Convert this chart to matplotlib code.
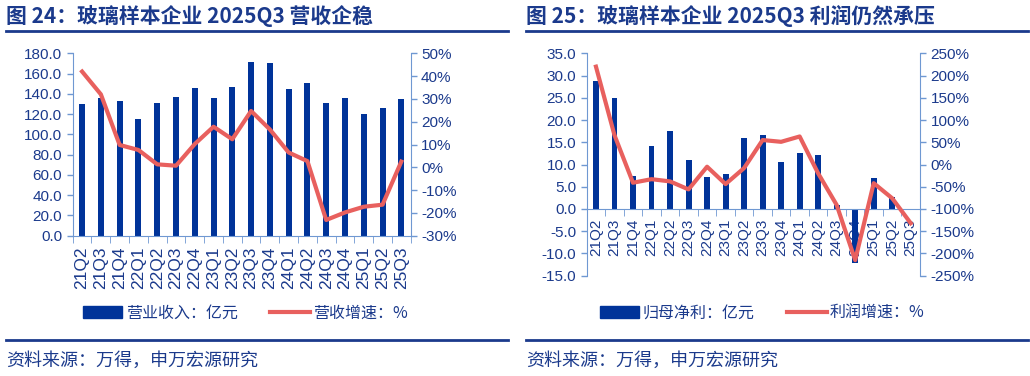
import matplotlib
matplotlib.use("Agg")
import matplotlib.pyplot as plt
from matplotlib.lines import Line2D
from matplotlib.patches import Patch
import numpy as np

plt.rcParams["font.family"] = ["Liberation Sans", "Noto Sans CJK SC", "DejaVu Sans"]

QUARTERS = ["21Q2", "21Q3", "21Q4", "22Q1", "22Q2", "22Q3", "22Q4", "23Q1", "23Q2",
            "23Q3", "23Q4", "24Q1", "24Q2", "24Q3", "24Q4", "25Q1", "25Q2", "25Q3"]
REVENUE = [130, 135.5, 132.6, 115.5, 131, 137, 146, 136, 147,
           171, 170, 145, 151, 131, 136, 120, 126, 134.5]          # 亿元
REV_GROWTH = [42, 32, 9.8, 7.6, 1.3, 0.7, 10.2, 17.8, 12.3,
              24.7, 16.6, 6.5, 2.7, -23.1, -19.8, -17.3, -16.4, 2.5]  # %
PROFIT = [28.8, 25.0, 7.5, 14.2, 17.5, 10.9, 7.1, 7.8, 15.9,
          16.7, 10.6, 12.5, 12.1, 1.0, -12.1, 7.0, 2.6, -0.3]       # 亿元
PROFIT_GROWTH = [220, 66, -41, -33, -38, -56, -5, -44, -8,
                 55, 51, 63, -20, -91, -215, -42, -76, -132]        # %

TITLES = ["图 24：玻璃样本企业 2025Q3 营收企稳", "图 25：玻璃样本企业 2025Q3 利润仍然承压"]
SOURCE = "资料来源：万得，申万宏源研究"

BAR_C = "#003399"
LINE_C = "#e8605e"
TXT_C = "#1b3a8c"
AX_C = "#6f98d2"
CJK = ["Noto Sans CJK SC", "DejaVu Sans"]

fig = plt.figure(figsize=(10.3, 3.76), dpi=100)


def style_axes(ax, ax2, xsize, xpad):
    for a in (ax, ax2):
        for s in a.spines.values():
            s.set_visible(False)
        a.tick_params(colors=AX_C, labelcolor=TXT_C, labelsize=11, width=1, length=4)
    ax.spines["left"].set_visible(True)
    ax.spines["left"].set_color(AX_C)
    ax.spines["bottom"].set_visible(True)
    ax.spines["bottom"].set_color(AX_C)
    ax.spines["bottom"].set_position(("data", 0))
    ax2.spines["right"].set_visible(True)
    ax2.spines["right"].set_color(AX_C)
    x = np.arange(len(QUARTERS))
    ax.set_xticks(x)
    ax.set_xticklabels(QUARTERS)
    ax.set_xticks(np.arange(len(QUARTERS) + 1) - 0.5, minor=True)
    ax.tick_params(axis="x", which="major", length=0, pad=xpad, labelrotation=90,
                   labelcolor=TXT_C, labelsize=xsize)
    ax.tick_params(axis="x", which="minor", length=5, color=AX_C)
    ax.set_xlim(-0.5, len(QUARTERS) - 0.5)


def panel(rect, bars, line, ylim, ystep, y2lim, y2step, title, labels, x0, x1, leg_x,
          xsize, xpad):
    ax = fig.add_axes(rect)
    ax2 = ax.twinx()
    x = np.arange(len(QUARTERS))
    ax.bar(x, bars, width=0.32, color=BAR_C, zorder=2)
    ax2.plot(x, line, color=LINE_C, lw=3, solid_joinstyle="round", zorder=3)
    ax.set_ylim(*ylim)
    ax.set_yticks(np.arange(ylim[0], ylim[1] + ystep / 2, ystep))
    ax.yaxis.set_major_formatter(matplotlib.ticker.FormatStrFormatter("%.1f"))
    ax2.set_ylim(*y2lim)
    ax2.set_yticks(np.arange(y2lim[0], y2lim[1] + y2step / 2, y2step))
    ax2.yaxis.set_major_formatter(matplotlib.ticker.FuncFormatter(lambda v, p: f"{v:.0f}%"))
    style_axes(ax, ax2, xsize, xpad)

    # title + rules
    fig.text(x0 / 1030, 1 - 16 / 376, title, fontsize=15, fontweight="bold",
             color=TXT_C, family=CJK, va="center", ha="left")
    fig.add_artist(Line2D([x0 / 1030, x1 / 1030], [1 - 31 / 376] * 2, color=TXT_C, lw=2))
    fig.add_artist(Line2D([x0 / 1030, x1 / 1030], [1 - 340 / 376] * 2, color=TXT_C, lw=2))
    fig.text(x0 / 1030, 1 - 361 / 376, SOURCE, fontsize=13, color=TXT_C, family=CJK,
             va="center", ha="left")

    handles = [Patch(color=BAR_C), Line2D([0], [0], color=LINE_C, lw=3)]
    leg = ax.legend(handles, labels, loc="center", bbox_to_anchor=(leg_x / 1030, 1 - 313 / 376),
                    bbox_transform=fig.transFigure, ncol=2, frameon=False,
                    prop={"family": CJK, "size": 11.5}, handlelength=2.5, handleheight=0.7,
                    handletextpad=0.2, columnspacing=2.0)
    for t in leg.get_texts():
        t.set_color(TXT_C)
    return ax, ax2


panel([72.7 / 1030, 1 - 235.7 / 376, 338 / 1030, 182.4 / 376], REVENUE, REV_GROWTH,
      (0, 180), 20, (-30, 50), 10, TITLES[0],
      ["营业收入：亿元", "营收增速：%"], 6, 508, 245, 12.5, 8)
panel([586.7 / 1030, 1 - 275.7 / 376, 333.3 / 1030, 222.4 / 376], PROFIT, PROFIT_GROWTH,
      (-15, 35), 5, (-250, 250), 50, TITLES[1],
      ["归母净利：亿元", "利润增速：%"], 526, 1028, 762, 11, 7)

fig.savefig("out.png", dpi=100)
